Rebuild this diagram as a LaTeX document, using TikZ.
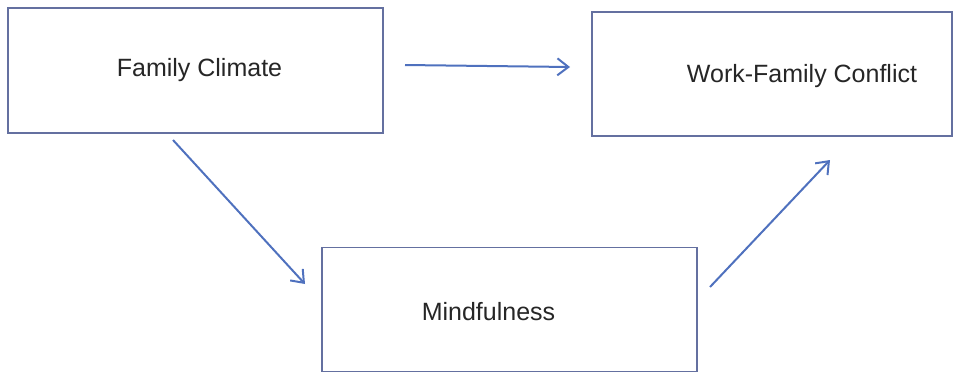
\documentclass[tikz,border=0pt]{standalone}
\usepackage{fontspec}
\setmainfont{Liberation Sans}
\usetikzlibrary{arrows.meta}
\definecolor{boxcol}{RGB}{100,112,160}
\definecolor{arrcol}{RGB}{79,113,190}
\tikzset{
  varbox/.style={draw=boxcol, line width=1.6pt, minimum width=#1, inner sep=0pt, fill=white},
  lbl/.style={font=\fontsize{25}{30}\selectfont, text=black!85},
  path arrow/.style={draw=arrcol, line width=2pt, -{Straight Barb[length=11pt,width=17pt,line width=2pt]}}
}
\begin{document}
\begin{tikzpicture}[x=1pt,y=-1pt]
\useasboundingbox (0,0) rectangle (955,373);
\node[varbox=375pt, minimum height=125pt,
      label={[lbl,xshift=4pt]center:Family Climate}] (fc) at (195.5,70.5) {};
\node[varbox=360pt, minimum height=124pt,
      label={[lbl,xshift=30pt,yshift=-2pt]center:Work-Family Conflict}] (wfc) at (772,74) {};
\node[varbox=375pt, minimum height=124pt,
      label={[lbl,xshift=-21pt,yshift=-2pt]center:Mindfulness}] (mind) at (509.5,309.5) {};
\coordinate (a1s) at (405,65);
\coordinate (a1e) at (570,67);
\coordinate (a2s) at (173,140);
\coordinate (a2e) at (305,284);
\coordinate (a3s) at (710,287);
\coordinate (a3e) at (830,160);
\draw[path arrow] (a1s) -- (a1e);
\draw[path arrow] (a2s) -- (a2e);
\draw[path arrow] (a3s) -- (a3e);
\end{tikzpicture}
\end{document}
